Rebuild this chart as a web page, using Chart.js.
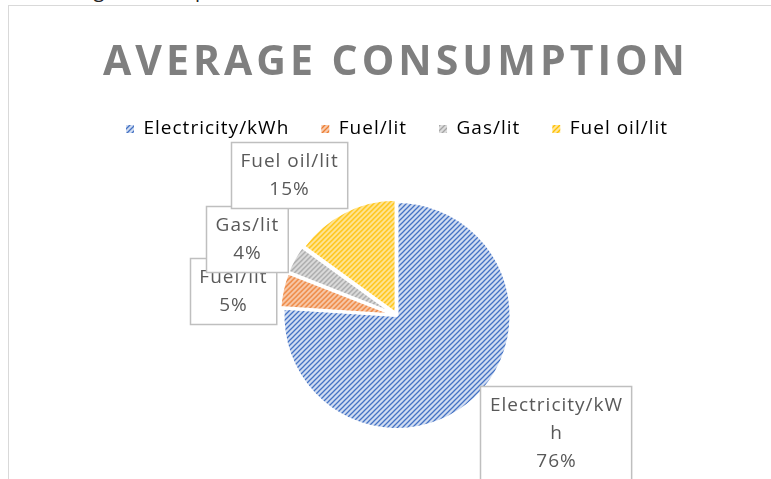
<!DOCTYPE html>
<html>
<head>
<meta charset="utf-8">
<script src="https://cdn.jsdelivr.net/npm/chart.js@4.4.1/dist/chart.umd.min.js"></script>
<style>
  html, body { margin: 0; padding: 0; width: 771px; height: 479px; overflow: hidden; background: #fff; }
  #caption { position: absolute; left: -38px; top: -24px; font: 20px "Open Sans", sans-serif; color: #222; white-space: nowrap; }
  #frame { position: absolute; left: 8px; top: 5px; width: 800px; height: 530px; border: 1px solid #d9d9d9; background: #fff; }
  #title { position: absolute; left: 0; top: 25px; width: 774px; text-align: center; line-height: 50px;
           font: bold 41px "Open Sans", sans-serif; letter-spacing: 4px; color: #7f7f7f; }
  #chart { position: absolute; left: 0; top: 0; }
</style>
</head>
<body>
<div id="caption">Chart 1: Average consumption</div>
<div id="frame">
  <canvas id="chart" width="800" height="530"></canvas>
  <div id="title">AVERAGE CONSUMPTION</div>
</div>
<script>
// data
const categories = ['Electricity/kWh', 'Fuel/lit', 'Gas/lit', 'Fuel oil/lit'];
const shares = [76, 5, 4, 15];

// hatch colours (light ground, dark stripe)
const lightColors = ['#d0dcf1', '#f8cbad', '#dcdcdc', '#ffe69a'];
const darkColors = ['#4472c4', '#ed7d31', '#a5a5a5', '#ffc000'];

// where each callout box sits, in pie radii from the centre
const labelSpots = [[1.395, 1.035], [-1.439, -0.211], [-1.316, -0.667], [-0.947, -1.232]];

const canvas = document.getElementById('chart');
const ctx = canvas.getContext('2d');

function hatch(light, dark) {
    const s = 5;
    const c = document.createElement('canvas');
    c.width = s;
    c.height = s;
    const g = c.getContext('2d');
    g.fillStyle = light;
    g.fillRect(0, 0, s, s);
    g.strokeStyle = dark;
    g.lineWidth = 1.3;
    g.beginPath();
    g.moveTo(0, s); g.lineTo(s, 0);
    g.moveTo(-1, 1); g.lineTo(1, -1);
    g.moveTo(s - 1, s + 1); g.lineTo(s + 1, s - 1);
    g.stroke();
    return ctx.createPattern(c, 'repeat');
}

const patterns = categories.map((c, i) => hatch(lightColors[i], darkColors[i]));

// canvas letter spacing gets reset whenever chart.js resizes the canvas
const spacingPlugin = {
    id: 'spacing',
    beforeUpdate(chart) { chart.ctx.letterSpacing = '1px'; },
    beforeDraw(chart) { chart.ctx.letterSpacing = '1px'; }
};

// wrap a word by characters when it gets wider than maxW
function wrapText(c, text, maxW) {
    const lines = [];
    let line = '';
    for (const ch of text) {
        if (line && c.measureText(line + ch).width > maxW) {
            lines.push(line);
            line = ch;
        } else {
            line += ch;
        }
    }
    lines.push(line);
    return lines;
}

const calloutPlugin = {
    id: 'callouts',
    afterDatasetsDraw(chart) {
        const c = chart.ctx;
        const meta = chart.getDatasetMeta(0);
        const cx = meta.data[0].x;
        const cy = meta.data[0].y;
        const r = meta.data[0].outerRadius;
        const total = shares.reduce((a, b) => a + b, 0);
        c.save();
        c.letterSpacing = '1px';
        c.font = '19px "Open Sans"';
        c.textAlign = 'center';
        c.textBaseline = 'middle';
        const lineH = 28;
        categories.forEach((cat, i) => {
            const pct = Math.round(shares[i] / total * 100) + '%';
            const lines = wrapText(c, cat, 140).concat([pct]);
            const w = Math.max(...lines.map(l => c.measureText(l).width)) + 18;
            const h = lines.length * lineH + 10;
            const bx = cx + labelSpots[i][0] * r;
            const by = cy + labelSpots[i][1] * r;
            const left = Math.round(bx - w / 2) + 0.5;
            const top = Math.round(by - h / 2) + 0.5;
            c.fillStyle = '#ffffff';
            c.fillRect(left, top, w, h);
            c.strokeStyle = '#bfbfbf';
            c.lineWidth = 1.5;
            c.strokeRect(left, top, w, h);
            c.fillStyle = '#595959';
            lines.forEach((l, k) => {
                c.fillText(l, bx + 0.5, top + 5 + lineH * k + lineH / 2);
            });
        });
        c.restore();
    }
};

new Chart(ctx, {
    type: 'pie',
    data: {
        labels: categories,
        datasets: [{
            data: shares,
            backgroundColor: patterns,
            borderColor: '#ffffff',
            borderWidth: 3,
            offset: [0, 8, 8, 8],
            radius: 114
        }]
    },
    options: {
        responsive: false,
        animation: false,
        layout: {
            padding: { top: 81.5, bottom: 53.5, left: 0, right: 24 }
        },
        plugins: {
            title: { display: false },
            tooltip: { enabled: false },
            legend: {
                display: true,
                position: 'top',
                labels: {
                    boxWidth: 8,
                    boxHeight: 8,
                    padding: 32,
                    color: '#595959',
                    font: { family: 'Open Sans', size: 19 },
                    generateLabels(chart) {
                        return chart.data.labels.map((label, i) => ({
                            text: label,
                            fillStyle: patterns[i],
                            strokeStyle: darkColors[i],
                            lineWidth: 0,
                            hidden: false,
                            index: i
                        }));
                    }
                }
            }
        }
    },
    plugins: [spacingPlugin, calloutPlugin]
});
</script>
</body>
</html>
